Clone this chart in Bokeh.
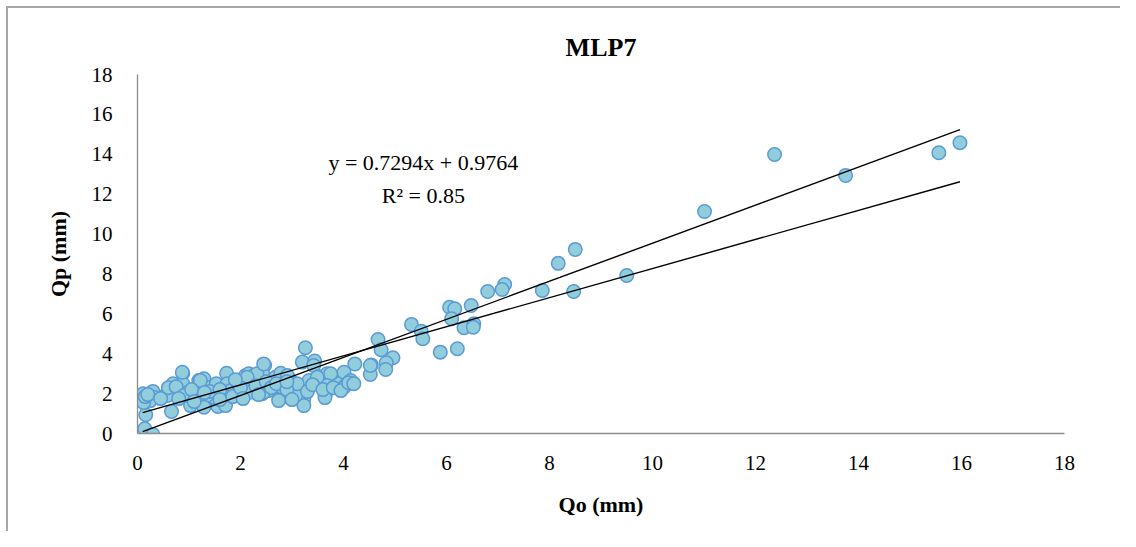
from bokeh.plotting import figure
from bokeh.models import Range1d, FixedTicker, Label, ColumnDataSource
from bokeh.embed import file_html
from bokeh.resources import INLINE

# ---- data ----
qo = [15.97, 15.56, 13.75, 12.37, 11.01, 9.50, 8.50, 8.17, 8.47, 7.86, 7.13, 7.08, 6.80,
      6.48, 6.06, 6.16, 6.10, 6.34, 6.53, 6.52, 5.32, 5.51, 5.54, 5.88, 6.21,
      4.67, 4.73, 4.96, 4.83, 4.82, 4.54, 4.52, 4.22, 3.26,
      0.14, 0.30, 0.16, 0.66, 0.14, 0.11, 0.30, 0.32, 0.54, 0.69, 0.77, 0.88, 0.88, 0.98,
      1.03, 1.19, 1.29, 1.19, 1.28, 1.42, 1.53, 1.56, 1.71, 1.73, 1.74, 1.81, 1.95, 1.97,
      2.10, 2.16, 2.26, 2.26, 1.48, 1.35, 0.25, 0.10,
      2.47, 2.43, 2.68, 2.78, 2.55, 2.42, 2.81, 2.84, 2.97, 3.00, 3.13, 3.20, 3.23, 3.23,
      3.33, 3.44, 3.42, 3.52, 3.65, 3.68, 3.78, 3.88, 3.91, 4.01, 4.04, 4.14, 4.52, 3.07, 2.32,
      3.64, 4.01, 3.75, 3.68, 3.49, 3.10, 2.91, 2.81, 2.74, 2.45, 2.45, 2.13, 2.19, 1.68,
      1.22, 1.16, 1.29, 0.87, 0.58, 0.12,
      0.12, 0.15, 0.20, 0.45, 0.60, 0.75, 0.90, 1.05, 1.10, 1.40, 1.60, 1.60, 1.85, 2.00,
      2.05, 2.30, 2.50, 2.60, 2.70, 2.90, 3.00, 3.30, 3.40, 3.60, 3.80, 3.95, 4.10, 4.20,
      2.35, 2.90, 1.90, 1.30, 0.80]
qp = [14.58, 14.08, 12.94, 13.99, 11.13, 7.92, 9.23, 8.53, 7.12, 7.17, 7.47, 7.22, 7.12,
      6.42, 6.33, 6.25, 5.75, 5.30, 5.50, 5.33, 5.47, 5.13, 4.75, 4.08, 4.25,
      4.71, 4.20, 3.80, 3.55, 3.21, 3.44, 2.96, 3.49, 4.30,
      0.24, -0.05, 0.94, 1.10, 1.74, 1.99, 2.11, 1.82, 1.91, 2.49, 1.91, 3.02, 2.49, 2.07,
      1.40, 2.66, 2.74, 2.07, 1.52, 2.32, 2.49, 1.35, 1.40, 3.02, 2.49, 2.16, 2.49, 1.91,
      2.91, 2.99, 2.91, 2.19, 1.82, 1.91, 1.65, 1.65,
      3.41, 2.99, 2.82, 3.02, 2.16, 1.99, 1.82, 2.41, 2.66, 2.07, 2.32, 3.58, 1.74, 1.40,
      2.66, 3.63, 3.41, 2.86, 1.99, 2.99, 2.66, 2.82, 2.49, 3.07, 2.41, 2.66, 3.41, 1.91, 2.99,
      1.80, 2.32, 2.99, 2.41, 2.82, 2.49, 2.91, 2.32, 1.65, 3.49, 2.07, 2.82, 2.07, 1.91,
      2.66, 1.79, 1.32, 3.07, 1.91, 1.74,
      1.55, 1.85, 1.95, 1.75, 2.30, 2.35, 1.90, 2.20, 1.60, 2.10, 2.20, 1.70, 1.85, 2.30,
      1.75, 2.40, 2.60, 2.30, 2.50, 2.20, 1.70, 2.10, 2.45, 2.20, 2.30, 2.15, 2.55, 2.50,
      1.95, 2.60, 2.70, 2.05, 1.75]

# trendlines: linear fit shown on chart, and a fit through the origin
fit_slope, fit_intercept = 0.7294, 0.9764
origin_slope = 0.954
x_ticks = [0, 2, 4, 6, 8, 10, 12, 14, 16, 18]
y_ticks = [0, 2, 4, 6, 8, 10, 12, 14, 16, 18]
title_text = "MLP7"
x_label = "Qo (mm)"
y_label = "Qp (mm)"
eq_text = "y = 0.7294x + 0.9764"
r2_text = "R² = 0.85"

FONT = "Liberation Serif"
AXIS_GRAY = "#8C8C8C"
BORDER = "#A6A6A6"

p = figure(width=1120, height=531, output_backend="svg", toolbar_location=None,
           x_range=Range1d(0, 18), y_range=Range1d(0, 18),
           min_border_left=137, min_border_right=56, min_border_top=74, min_border_bottom=98,
           title=title_text)
p.styles = {
    "background": (f"linear-gradient({BORDER},{BORDER}) 6px 6px / 2px 100% no-repeat, "
                   f"linear-gradient({BORDER},{BORDER}) 6px 6px / 100% 2px no-repeat, white"),
}

p.title.align = "center"
p.title.text_font = FONT
p.title.text_font_size = "26px"
p.title.text_font_style = "bold"
p.title.text_color = "#000000"
p.title.standoff = 4
p.title.padding = 11

p.grid.visible = False
p.outline_line_color = None
p.background_fill_color = "white"
p.border_fill_color = None

for ax, ticks, lab in ((p.xaxis[0], x_ticks, x_label), (p.yaxis[0], y_ticks, y_label)):
    ax.ticker = FixedTicker(ticks=ticks)
    ax.axis_line_color = AXIS_GRAY
    ax.axis_line_width = 1.3
    ax.major_tick_line_color = None
    ax.minor_tick_line_color = None
    ax.major_label_text_font = FONT
    ax.major_label_text_font_size = "21px"
    ax.major_label_text_color = "#000000"
    ax.axis_label = lab
    ax.axis_label_text_font = FONT
    ax.axis_label_text_font_size = "22px"
    ax.axis_label_text_font_style = "bold"
    ax.axis_label_text_color = "#000000"

p.xaxis.major_label_standoff = 16
p.xaxis.axis_label_standoff = 19
p.yaxis.major_label_standoff = 19
p.yaxis.axis_label_standoff = 18

src = ColumnDataSource(dict(x=qo, y=qp))
p.scatter("x", "y", source=src, size=13.5, marker="circle",
          fill_color="#92CDDC", line_color="#5B9BD5", line_width=1.5)

x0, x1 = min(qo), max(qo)
p.line([x0, x1], [fit_slope * x0 + fit_intercept, fit_slope * x1 + fit_intercept],
       line_color="black", line_width=1.4)
p.line([x0, x1], [origin_slope * x0, origin_slope * x1], line_color="black", line_width=1.4)

p.add_layout(Label(x=5.55, y=13.6, text=eq_text, text_font=FONT, text_font_size="22px",
                   text_align="center", text_baseline="middle", text_color="#000000"))
p.add_layout(Label(x=5.55, y=11.94, text=r2_text, text_font=FONT, text_font_size="22px",
                   text_align="center", text_baseline="middle", text_color="#000000"))

open("out.html", "w").write(file_html(p, INLINE))
